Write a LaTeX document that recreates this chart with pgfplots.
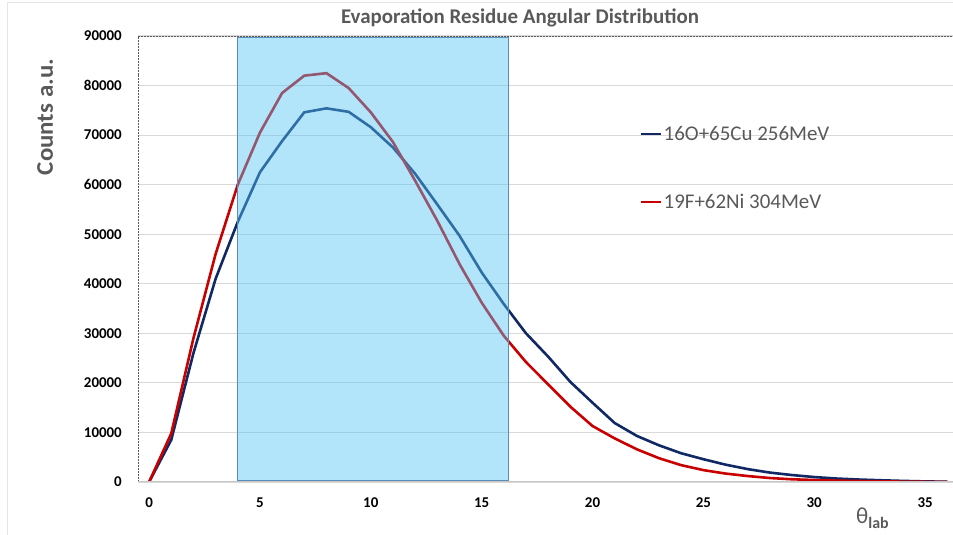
\documentclass[border=0pt]{standalone}
\usepackage{pgfplots}
\pgfplotsset{compat=1.18}
\usepackage{fontspec}
\setmainfont{Carlito}
\definecolor{navy}{RGB}{16,40,100}
\definecolor{dred}{RGB}{200,0,0}
\definecolor{txtgray}{RGB}{89,89,89}
\definecolor{roicyan}{RGB}{85,195,245}
\definecolor{roiedge}{RGB}{90,140,185}
\definecolor{gridgray}{RGB}{217,217,217}

\pgfplotstableread{
x y
0 0
1 8500
2 26000
3 41000
4 52500
5 62500
6 68800
7 74600
8 75400
9 74700
10 71600
11 67500
12 62200
13 56000
14 49700
15 42300
16 35900
17 30000
18 25300
19 20200
20 16000
21 11900
22 9300
23 7400
24 5800
25 4600
26 3500
27 2600
28 1900
29 1400
30 1000
31 700
32 500
33 350
34 220
35 120
36 50
}\blue

\pgfplotstableread{
x y
0 0
1 9800
2 29000
3 46000
4 60000
5 70500
6 78500
7 82000
8 82500
9 79500
10 74600
11 68600
12 60800
13 52700
14 44000
15 36200
16 29500
17 24200
18 19700
19 15200
20 11300
21 8800
22 6600
23 4800
24 3400
25 2400
26 1700
27 1200
28 800
29 550
30 400
31 280
32 200
33 130
34 80
35 40
36 10
}\red

\begin{document}
\begin{tikzpicture}
\path[use as bounding box] (0bp,0bp) rectangle (953bp,535bp);
\draw[gray!20, line width=1bp] (7bp,0bp) -- (7bp,532bp) -- (953bp,532bp);
\node[text=txtgray, font=\fontsize{21}{24}\selectfont\bfseries, anchor=base] at (520bp,511bp) {Evaporation Residue Angular Distribution};
\node[text=txtgray, font=\fontsize{24}{26}\selectfont\bfseries, rotate=90] at (45bp,418bp) {\scalebox{1.04}[1]{Counts a.u.}};
\node[text=txtgray, anchor=base west, inner sep=0pt] at (856bp,12bp) {\fontsize{23}{26}\selectfont θ\raisebox{-5bp}{\fontsize{16}{18}\selectfont\bfseries lab}};
\begin{axis}[
  at={(138bp,53bp)}, anchor=south west,
  width=815bp, height=446bp, scale only axis,
  xmin=-0.5, xmax=36.26, ymin=0, ymax=90000,
  axis line style={draw=none},
  xtick={0,5,...,35},
  ytick={0,10000,...,90000},
  major tick length=0pt,
  scaled y ticks=false,
  /pgf/number format/.cd, assume math mode=true, set thousands separator={}, fixed,
  /pgfplots/.cd,
  ymajorgrids,
  major grid style={gridgray, line width=1.2bp},
  ticklabel style={font=\fontsize{15}{18}\selectfont\bfseries, text=black},
  yticklabel style={anchor=east, inner sep=0pt, xshift=-16bp},
  xticklabel style={anchor=north, inner sep=0pt, yshift=-16bp},
  legend style={at={(0.616,0.704)}, anchor=west, draw=none, fill=none,
    font=\fontsize{21}{23}\selectfont, text=txtgray, row sep=50bp, inner sep=0pt,
    nodes={inner sep=1bp}},
  legend cell align=left,
  legend image code/.code={\draw[#1, line width=2.5bp] (0bp,0bp) -- (20bp,0bp);},
]
\addplot[navy, line width=2.6bp, sharp plot] table[x=x,y=y] {\blue};
\addlegendentry{16O+65Cu 256MeV}
\addplot[dred, line width=2.6bp, sharp plot] table[x=x,y=y] {\red};
\addlegendentry{19F+62Ni 304MeV}
\fill[fill=roicyan, fill opacity=0.45] (axis cs:4,400) rectangle (axis cs:16.2,89600);
\draw[roiedge, line width=1bp] (axis cs:4,400) rectangle (axis cs:16.2,89600);
\draw[black!65, densely dotted, line width=2bp] (rel axis cs:0,0) -- (rel axis cs:0,1) -- (rel axis cs:1,1);
\draw[gray!45, line width=2.5bp] (rel axis cs:0,0) -- (rel axis cs:1,0);
\end{axis}
\end{tikzpicture}
\end{document}
